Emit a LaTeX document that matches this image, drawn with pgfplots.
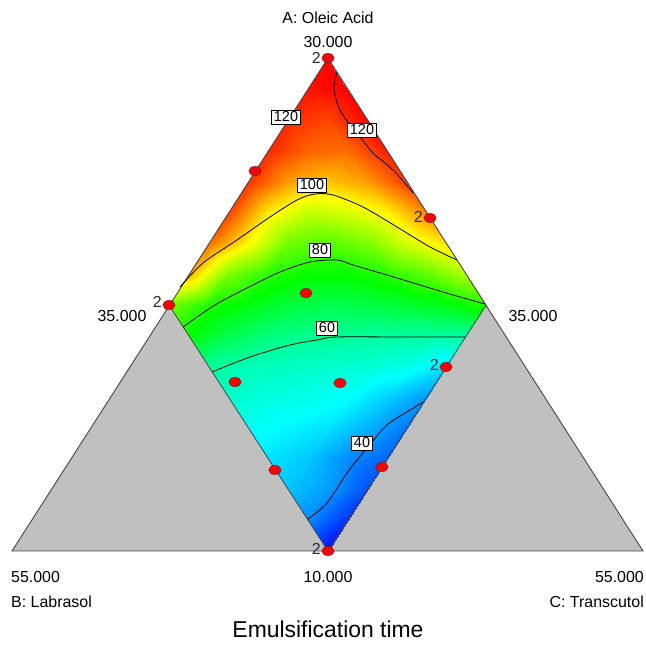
\documentclass[border=0pt]{standalone}
\usepackage{pgfplots}
\usepackage{pgfplotstable}
\pgfplotsset{compat=1.18}
\usepackage{fontspec}
\setmainfont{Liberation Sans}

% Response surface on the constrained region, sampled on a 9x9 grid.
% s runs from the bottom vertex to the right vertex, t from the bottom vertex to the left vertex.
\pgfplotstableread{
s t z
0 0 26
0 0.125 39
0 0.25 45
0 0.375 48
0 0.5 52
0 0.625 56
0 0.75 61
0 0.875 76
0 1 88
0.125 0 30
0.125 0.125 41
0.125 0.25 45
0.125 0.375 50
0.125 0.5 54
0.125 0.625 58
0.125 0.75 68.5
0.125 0.875 79
0.125 1 110
0.25 0 33
0.25 0.125 39
0.25 0.25 48
0.25 0.375 53
0.25 0.5 57
0.25 0.625 64
0.25 0.75 75
0.25 0.875 89
0.25 1 117
0.375 0 35
0.375 0.125 43
0.375 0.25 51
0.375 0.375 56
0.375 0.5 62
0.375 0.625 70.5
0.375 0.75 80.7
0.375 0.875 103
0.375 1 121
0.5 0 37
0.5 0.125 46
0.5 0.25 55
0.5 0.375 61
0.5 0.5 68.5
0.5 0.625 77
0.5 0.75 88
0.5 0.875 104
0.5 1 123
0.625 0 40.5
0.625 0.125 53
0.625 0.25 60.5
0.625 0.375 69.5
0.625 0.5 77
0.625 0.625 85
0.625 0.75 96
0.625 0.875 112
0.625 1 124
0.75 0 48
0.75 0.125 60
0.75 0.25 71.5
0.75 0.375 80.5
0.75 0.5 89
0.75 0.625 98
0.75 0.75 108
0.75 0.875 118
0.75 1 124
0.875 0 60
0.875 0.125 74.5
0.875 0.25 86
0.875 0.375 98
0.875 0.5 103
0.875 0.625 112
0.875 0.75 117
0.875 0.875 121
0.875 1 126
1 0 80
1 0.125 94
1 0.25 105
1 0.375 114
1 0.5 122
1 0.625 125
1 0.75 127
1 0.875 129
1 1 132
}\surfdata

% Design points (plot coordinates)
\pgfplotstableread{
x y
328 588
255 475
430 428
169 341
306 353
235 264
340 263
446 279
275 176
382 179
328 95
}\designpts

\definecolor{regiongray}{RGB}{192,192,192}
\definecolor{edgegray}{RGB}{70,70,70}
\definecolor{ptred}{RGB}{235,10,10}
\definecolor{ptedge}{RGB}{150,0,0}
\definecolor{repcol}{RGB}{40,40,70}

\begin{document}
\begin{tikzpicture}[
  lbl/.style={draw=black, fill=white, line width=0.8pt, inner xsep=2.2pt, inner ysep=1.8pt,
    font=\fontsize{14.5}{15}\selectfont},
  rep/.style={text=repcol, font=\fontsize{16}{17}\selectfont, anchor=east, inner sep=0pt},
  txt/.style={font=\fontsize{16}{18}\selectfont, inner sep=0pt},
]
\begin{axis}[
  width=646bp, height=646bp, scale only axis,
  xmin=0, xmax=646, ymin=0, ymax=646,
  hide axis, clip=false,
  colormap={dex}{rgb255=(0,0,255) rgb255=(0,255,255) rgb255=(0,255,0) rgb255=(255,255,0) rgb255=(255,0,0)},
  point meta min=25, point meta max=128,
]
% full simplex
\addplot[fill=regiongray, draw=none] coordinates {(12,95) (643,95) (328,588)} -- cycle;

% response surface over the constrained region
\addplot[surf, shader=interp, mesh/rows=9, mesh/cols=9, point meta=\thisrow{z}]
  table[x expr={328+158*\thisrow{s}-159*\thisrow{t}},
        y expr={95+246*(\thisrow{s}+\thisrow{t})}] {\surfdata};

% outlines
\addplot[draw=edgegray, line width=0.9pt] coordinates {(12,95) (643,95) (328,588)} -- cycle;
\addplot[draw=edgegray, line width=0.8pt] coordinates {(169,341) (328,95) (486,341)};

% contour lines
\addplot[black, line width=0.8pt, smooth] coordinates {(308,127) (327,143) (347,173) (367,198) (387,221) (407,234) (423,244)};
\addplot[black, line width=0.8pt, smooth] coordinates {(212,274) (250,289) (290,301) (317,306) (337,309) (400,309) (466,309)};
\addplot[black, line width=0.8pt, smooth] coordinates {(183,319) (215,341) (247,358) (280,374) (310,384) (337,386) (353,381) (387,371) (420,361) (453,351) (485,342)};
\addplot[black, line width=0.8pt, smooth] coordinates {(180,359) (203,383) (237,406) (270,429) (297,446) (315,452) (333,451) (363,439) (397,419) (430,399) (457,386)};
\addplot[black, line width=0.8pt, smooth] coordinates {(337,574) (334,561) (335,551) (339,538) (347,525) (360,509) (373,493) (385,483) (397,472) (413,453)};

% contour labels
\node[lbl] at (axis cs:286,529) {120};
\node[lbl] at (axis cs:362,516) {120};
\node[lbl] at (axis cs:312,461) {100};
\node[lbl] at (axis cs:320,396) {80};
\node[lbl] at (axis cs:327,318) {60};
\node[lbl] at (axis cs:362,203) {40};

% design points
\addplot[only marks, mark=*, mark size=4.6,
  mark options={fill=ptred, draw=ptedge, line width=0.4pt, xscale=1.35}]
  table[x=x, y=y] {\designpts};

% replicate counts
\node[rep] at (axis cs:321,588) {2};
\node[rep] at (axis cs:423,429) {2};
\node[rep] at (axis cs:162,344) {2};
\node[rep] at (axis cs:439,281) {2};
\node[rep] at (axis cs:321,97) {2};

% vertex and axis labels
\node[txt] at (axis cs:328,628) {A: Oleic Acid};
\node[txt] at (axis cs:328,604) {30.000};
\node[txt] at (axis cs:122,330) {35.000};
\node[txt] at (axis cs:533,330) {35.000};
\node[txt, anchor=west] at (axis cs:11,69) {55.000};
\node[txt, anchor=west] at (axis cs:11,44) {B: Labrasol};
\node[txt] at (axis cs:328,69) {10.000};
\node[txt, anchor=east] at (axis cs:644,69) {55.000};
\node[txt, anchor=east] at (axis cs:644,44) {C: Transcutol};
\node[txt, anchor=base, font=\fontsize{23}{26}\selectfont] at (axis cs:328,9) {Emulsification time};
\end{axis}
% full drawing area
\path (current axis.south west) rectangle (current axis.north east);
\end{tikzpicture}
\end{document}
